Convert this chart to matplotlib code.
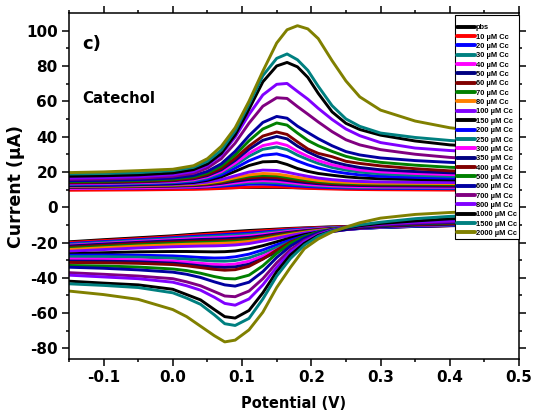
import numpy as np
import matplotlib.pyplot as plt

plt.rcParams['font.family'] = ['DejaVu Sans']
plt.rcParams['font.weight'] = 'bold'

# forward (anodic) scan and reverse (cathodic) scan potentials, V
e_fwd = [-0.15, -0.10, -0.05, 0.00, 0.03, 0.05, 0.07, 0.09, 0.11, 0.13, 0.15, 0.165,
         0.18, 0.195, 0.21, 0.23, 0.25, 0.27, 0.30, 0.35, 0.40, 0.45, 0.50]
e_rev = [0.50, 0.45, 0.40, 0.35, 0.30, 0.27, 0.25, 0.23, 0.21, 0.19, 0.17, 0.15,
         0.13, 0.11, 0.09, 0.075, 0.06, 0.04, 0.02, 0.00, -0.05, -0.10, -0.15]

labels = ['pbs', '10 µM Cc', '20 µM Cc', '30 µM Cc', '40 µM Cc', '50 µM Cc',
          '60 µM Cc', '70 µM Cc', '80 µM Cc', '100 µM Cc', '150 µM Cc',
          '200 µM Cc', '250 µM Cc', '300 µM Cc', '350 µM Cc', '400 µM Cc',
          '500 µM Cc', '600 µM Cc', '700 µM Cc', '800 µM Cc', '1000 µM Cc',
          '1500 µM Cc', '2000 µM Cc']

colors = ['#000000', '#ff0000', '#0000ff', '#008080', '#ff00ff', '#000080',
          '#800000', '#008000', '#ff8000', '#8000ff', '#000000', '#0000ff',
          '#008080', '#ff00ff', '#000080', '#800000', '#008000', '#0000a0',
          '#800080', '#8000ff', '#000000', '#008080', '#808000']

# current on the forward scan, uA
i_fwd = [
    [10.2, 10.3, 10.5, 10.7, 10.8, 10.9, 11.0, 11.1, 11.2, 11.2, 11.2, 11.1, 11.0, 10.9, 10.8, 10.7, 10.6, 10.5, 10.4, 10.3, 10.2, 10.1, 10.0],
    [9.6, 9.7, 9.8, 10.0, 10.1, 10.3, 10.6, 11.0, 11.4, 11.6, 11.5, 11.3, 11.0, 10.7, 10.5, 10.3, 10.1, 10.0, 9.9, 9.8, 9.7, 9.6, 9.5],
    [10.5, 10.6, 10.8, 11.0, 11.2, 11.5, 11.9, 12.5, 13.0, 13.1, 12.8, 12.4, 12.0, 11.7, 11.4, 11.1, 10.9, 10.8, 10.7, 10.6, 10.5, 10.4, 10.3],
    [10.8, 10.9, 11.1, 11.3, 11.5, 11.9, 12.5, 13.3, 13.9, 14.1, 13.8, 13.3, 12.8, 12.3, 12.0, 11.6, 11.4, 11.2, 11.1, 11.0, 10.9, 10.8, 10.7],
    [10.6, 10.8, 11.0, 11.3, 11.6, 12.0, 12.8, 13.8, 14.7, 15.0, 14.7, 14.1, 13.5, 12.9, 12.5, 12.1, 11.8, 11.6, 11.5, 11.4, 11.3, 11.2, 11.1],
    [11.2, 11.4, 11.6, 11.9, 12.2, 12.7, 13.5, 14.7, 15.7, 16.1, 15.8, 15.1, 14.4, 13.8, 13.3, 12.8, 12.5, 12.3, 12.1, 12.0, 11.9, 11.8, 11.7],
    [11.4, 11.6, 11.8, 12.1, 12.5, 13.0, 14.0, 15.4, 16.6, 17.1, 16.8, 16.0, 15.2, 14.5, 13.9, 13.3, 13.0, 12.8, 12.6, 12.5, 12.4, 12.3, 12.2],
    [11.6, 11.8, 12.0, 12.4, 12.8, 13.4, 14.5, 16.1, 17.5, 18.1, 17.8, 16.9, 16.0, 15.2, 14.5, 13.9, 13.5, 13.3, 13.1, 13.0, 12.9, 12.8, 12.7],
    [11.8, 12.0, 12.2, 12.6, 13.0, 13.7, 14.9, 16.7, 18.3, 19.1, 18.8, 17.9, 16.9, 16.0, 15.2, 14.5, 14.1, 13.8, 13.6, 13.5, 13.4, 13.3, 13.2],
    [12.0, 12.2, 12.5, 12.9, 13.4, 14.2, 15.6, 17.8, 19.9, 21.0, 20.8, 19.8, 18.6, 17.5, 16.5, 15.6, 15.0, 14.6, 14.3, 14.1, 14.0, 13.9, 13.8],
    [12.3, 12.5, 12.8, 13.3, 14.0, 15.2, 17.2, 20.3, 23.6, 25.7, 25.9, 24.2, 21.9, 20.3, 19.1, 18.1, 17.2, 16.6, 16.1, 15.7, 15.5, 15.3, 15.1],
    [12.6, 12.8, 13.1, 13.7, 14.5, 15.9, 18.3, 22.1, 26.3, 29.4, 30.2, 28.7, 26.2, 24.0, 22.2, 20.4, 19.2, 18.3, 17.5, 16.9, 16.5, 16.2, 16.0],
    [13.0, 13.2, 13.5, 14.1, 15.0, 16.6, 19.4, 23.8, 28.9, 32.8, 34.1, 32.6, 29.5, 27.0, 24.8, 22.5, 21.0, 19.9, 18.9, 18.1, 17.5, 17.1, 16.8],
    [13.3, 13.5, 13.9, 14.5, 15.5, 17.2, 20.2, 25.0, 30.6, 34.9, 36.5, 35.0, 31.6, 28.8, 26.4, 24.0, 22.3, 21.1, 20.0, 19.1, 18.5, 18.1, 17.8],
    [13.7, 13.9, 14.3, 15.0, 16.1, 17.9, 21.2, 26.5, 32.8, 37.9, 40.1, 38.7, 34.6, 31.3, 28.6, 25.8, 23.9, 22.5, 21.2, 20.2, 19.5, 19.0, 18.6],
    [14.0, 14.2, 14.6, 15.3, 16.5, 18.5, 22.0, 27.7, 34.6, 40.3, 42.6, 41.2, 37.0, 33.0, 30.5, 28.6, 26.0, 24.8, 23.4, 21.8, 20.6, 20.0, 19.6],
    [14.5, 14.7, 15.1, 15.9, 17.2, 19.4, 23.3, 29.6, 37.6, 44.3, 47.7, 46.5, 42.0, 37.8, 34.8, 31.6, 28.8, 27.0, 25.4, 23.8, 22.6, 21.9, 21.4],
    [15.0, 15.2, 15.6, 16.5, 17.9, 20.3, 24.6, 31.6, 40.5, 48.0, 51.4, 50.4, 45.9, 42.3, 38.8, 34.8, 31.5, 29.6, 27.9, 26.4, 25.4, 24.7, 24.2],
    [15.8, 16.0, 16.5, 17.5, 19.2, 22.2, 27.5, 36.3, 47.6, 57.2, 62.0, 61.6, 57.0, 52.7, 48.3, 42.8, 38.2, 35.3, 32.6, 30.0, 28.2, 27.1, 26.4],
    [16.5, 16.8, 17.3, 18.4, 20.3, 23.7, 29.7, 39.7, 52.5, 63.6, 69.6, 70.1, 65.6, 61.2, 56.0, 49.7, 44.3, 40.5, 36.6, 33.5, 32.1, 31.1, 30.4],
    [17.5, 17.8, 18.3, 19.4, 21.3, 24.5, 30.5, 41.0, 55.5, 71.0, 80.0, 82.0, 79.5, 73.5, 64.5, 54.0, 47.5, 44.0, 40.8, 37.5, 35.3, 34.2, 33.5],
    [18.8, 19.1, 19.6, 20.7, 22.6, 26.0, 32.3, 43.2, 58.3, 74.5, 84.3, 86.8, 83.5, 77.5, 68.5, 57.5, 50.0, 45.8, 42.0, 39.5, 37.8, 36.6, 35.8],
    [19.6, 20.0, 20.7, 21.5, 23.5, 27.5, 34.5, 45.0, 60.0, 77.0, 93.0, 100.5, 102.8, 101.0, 95.5, 83.0, 71.5, 62.5, 55.0, 48.8, 45.0, 42.8, 41.0],
]

# current on the reverse scan, uA
i_rev = [
    [-8.8, -9.2, -9.6, -10.0, -10.4, -10.7, -10.9, -11.1, -11.4, -11.7, -12.0, -12.4, -12.8, -13.2, -13.7, -14.1, -14.5, -15.0, -15.6, -16.2, -17.3, -18.4, -19.6],
    [-9.0, -9.4, -9.8, -10.2, -10.6, -10.9, -11.1, -11.3, -11.6, -11.9, -12.3, -12.8, -13.3, -13.8, -14.3, -14.7, -15.1, -15.6, -16.1, -16.7, -17.8, -18.9, -20.0],
    [-9.2, -9.6, -10.0, -10.4, -10.8, -11.1, -11.3, -11.6, -11.9, -12.3, -12.8, -13.4, -14.1, -14.7, -15.2, -15.5, -15.9, -16.3, -16.8, -17.3, -18.4, -19.5, -20.6],
    [-9.3, -9.7, -10.1, -10.5, -10.9, -11.2, -11.4, -11.7, -12.1, -12.6, -13.2, -13.9, -14.7, -15.4, -15.9, -16.2, -16.5, -16.9, -17.3, -17.8, -18.9, -20.0, -21.1],
    [-9.4, -9.8, -10.2, -10.6, -11.0, -11.3, -11.6, -11.9, -12.3, -12.9, -13.6, -14.5, -15.4, -16.2, -16.7, -17.0, -17.3, -17.6, -18.0, -18.4, -19.4, -20.5, -21.6],
    [-9.5, -9.9, -10.3, -10.7, -11.1, -11.4, -11.7, -12.1, -12.6, -13.3, -14.1, -15.1, -16.2, -17.1, -17.6, -17.9, -18.1, -18.3, -18.7, -19.0, -19.9, -20.9, -22.0],
    [-9.6, -10.0, -10.4, -10.8, -11.2, -11.5, -11.8, -12.2, -12.8, -13.6, -14.6, -15.7, -16.9, -17.9, -18.5, -18.8, -19.0, -19.2, -19.5, -19.8, -20.6, -21.6, -22.7],
    [-9.6, -10.0, -10.4, -10.8, -11.2, -11.6, -11.9, -12.4, -13.0, -13.9, -15.0, -16.3, -17.6, -18.7, -19.3, -19.6, -19.8, -20.0, -20.2, -20.5, -21.3, -22.3, -23.3],
    [-9.7, -10.1, -10.5, -10.9, -11.3, -11.7, -12.0, -12.5, -13.2, -14.2, -15.4, -16.8, -18.2, -19.4, -20.1, -20.4, -20.6, -20.8, -21.0, -21.3, -22.0, -23.0, -24.0],
    [-9.7, -10.1, -10.5, -10.9, -11.4, -11.8, -12.1, -12.7, -13.5, -14.6, -16.0, -17.6, -19.2, -20.6, -21.4, -21.7, -21.9, -22.0, -22.2, -22.4, -23.1, -24.0, -25.0],
    [-9.6, -10.0, -10.4, -10.9, -11.5, -12.0, -12.4, -13.1, -14.1, -15.5, -17.4, -19.6, -21.8, -23.6, -24.8, -25.2, -25.3, -25.2, -25.1, -25.1, -25.3, -25.8, -26.4],
    [-9.5, -9.9, -10.3, -10.8, -11.5, -12.1, -12.6, -13.4, -14.6, -16.3, -18.6, -21.3, -24.2, -26.6, -28.1, -28.7, -28.8, -28.5, -28.0, -27.6, -27.2, -27.1, -27.2],
    [-9.3, -9.7, -10.1, -10.6, -11.4, -12.1, -12.7, -13.6, -15.0, -17.0, -19.6, -22.8, -26.0, -28.7, -30.2, -30.6, -30.5, -30.0, -29.4, -28.9, -28.3, -28.0, -28.0],
    [-9.1, -9.5, -9.9, -10.4, -11.2, -12.0, -12.7, -13.7, -15.3, -17.5, -20.5, -24.1, -27.7, -30.6, -32.2, -32.6, -32.4, -31.8, -31.1, -30.5, -29.8, -29.5, -29.4],
    [-8.9, -9.3, -9.7, -10.2, -11.1, -11.9, -12.7, -13.8, -15.5, -18.0, -21.4, -25.3, -29.2, -32.3, -33.8, -34.1, -33.9, -33.2, -32.4, -31.7, -30.9, -30.6, -30.5],
    [-8.6, -9.0, -9.4, -9.9, -10.6, -11.3, -11.9, -12.9, -14.6, -16.7, -19.7, -24.3, -29.4, -33.5, -35.4, -35.7, -35.2, -34.2, -33.2, -32.5, -31.8, -31.5, -31.3],
    [-8.2, -8.5, -8.9, -9.5, -10.3, -11.0, -11.6, -12.5, -14.0, -16.6, -20.5, -26.2, -33.2, -38.5, -40.6, -40.4, -39.3, -37.4, -35.9, -35.0, -33.9, -33.3, -33.0],
    [-7.8, -8.1, -8.6, -9.3, -10.2, -11.0, -11.7, -12.7, -14.5, -17.5, -22.0, -28.5, -36.5, -42.5, -44.7, -44.0, -42.3, -39.8, -38.0, -36.8, -35.5, -34.6, -34.0],
    [-7.5, -7.8, -8.3, -9.0, -10.0, -10.8, -11.7, -13.0, -15.2, -18.8, -24.0, -31.5, -40.5, -47.5, -50.7, -50.3, -47.8, -44.5, -42.3, -40.5, -39.0, -38.0, -37.1],
    [-7.0, -7.3, -7.8, -8.5, -9.6, -10.6, -11.6, -13.0, -15.5, -19.5, -25.5, -34.0, -44.0, -52.0, -55.5, -54.5, -51.0, -47.0, -44.5, -42.5, -40.5, -39.5, -38.5],
    [-5.2, -5.8, -6.6, -7.8, -9.2, -10.5, -11.8, -13.5, -16.0, -20.5, -27.0, -36.5, -48.5, -58.5, -62.8, -62.0, -58.0, -52.5, -49.5, -46.5, -44.0, -43.0, -41.9],
    [-4.0, -4.5, -5.2, -6.5, -8.5, -10.0, -11.5, -13.5, -16.5, -21.5, -29.0, -39.0, -52.0, -63.0, -67.0, -66.0, -61.0, -55.0, -51.5, -48.5, -45.5, -44.3, -43.4],
    [-1.7, -2.3, -3.0, -4.1, -6.2, -8.8, -11.3, -14.0, -18.0, -23.5, -34.0, -45.5, -59.5, -69.5, -75.3, -76.3, -72.8, -67.4, -62.0, -58.0, -52.2, -49.5, -47.5],
]

fig = plt.figure(figsize=(5.36, 4.18), dpi=100)
ax = fig.add_axes([0.1287, 0.1411, 0.8396, 0.8278])

for k in range(len(labels)):
    e = np.concatenate([e_fwd, e_rev])
    cur = np.concatenate([i_fwd[k], i_rev[k]])
    ax.plot(e, cur, color=colors[k], lw=2.1, label=labels[k],
            solid_joinstyle='round', solid_capstyle='round')

ax.set_xlim(-0.15, 0.5)
ax.set_ylim(-86, 110)
ax.set_xticks(np.arange(-0.1, 0.51, 0.1))
ax.set_xticks(np.arange(-0.15, 0.51, 0.05), minor=True)
ax.set_yticks(np.arange(-80, 101, 20))
ax.set_yticks(np.arange(-80, 101, 10), minor=True)
ax.set_xticklabels(['-0.1', '0.0', '0.1', '0.2', '0.3', '0.4', '0.5'])
ax.set_yticklabels([str(v) for v in range(-80, 101, 20)])
ax.tick_params(which='both', direction='out', width=1.1, labelsize=11,
               top=True, right=True)
ax.tick_params(which='major', length=5, pad=3)
ax.tick_params(which='minor', length=2.5)
for s in ax.spines.values():
    s.set_linewidth(1.1)

ax.set_xlabel('Potential (V)', fontsize=10.5, fontweight='bold', labelpad=8)
ax.set_ylabel('Current (µA)', fontsize=12.5, fontweight='bold', labelpad=0.5)

ax.text(0.03, 0.895, 'c)', transform=ax.transAxes, fontsize=13, fontweight='bold')
ax.text(0.03, 0.74, 'Catechol', transform=ax.transAxes, fontsize=10.7, fontweight='bold')

leg = ax.legend(loc='upper right', bbox_to_anchor=(1.0, 0.994),
                prop={'family': 'Liberation Sans', 'weight': 'bold', 'size': 5.4},
                title=' ', title_fontproperties={'size': 4},
                frameon=True, fancybox=False, edgecolor='black', framealpha=1,
                handlelength=2.5, handletextpad=0.1, labelspacing=0.28,
                borderpad=0.25, borderaxespad=0.0)
leg.get_frame().set_linewidth(0.8)
for line in leg.get_lines():
    line.set_linewidth(2.8)
leg.set_zorder(10)

fig.savefig('out.png', dpi=100)
